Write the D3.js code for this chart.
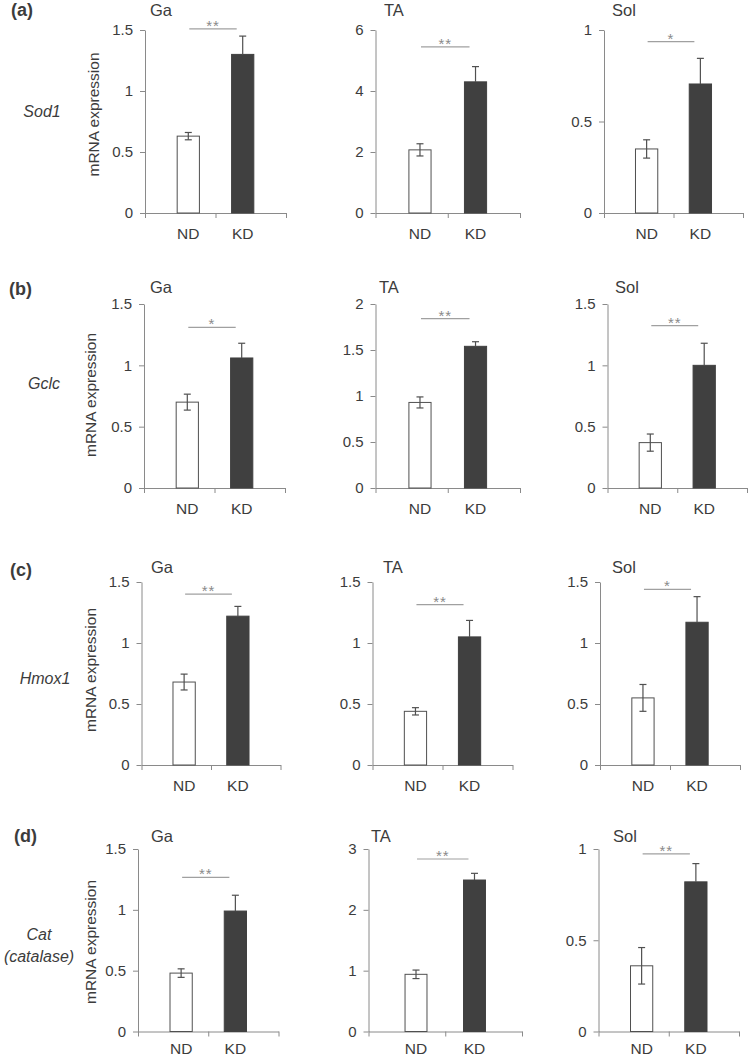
<!DOCTYPE html>
<html><head><meta charset="utf-8">
<script src="https://cdn.jsdelivr.net/npm/d3@7"></script>
<style>
body{margin:0;background:#fff;}
svg{display:block;font-family:"Liberation Sans",Arial,sans-serif;}
</style></head>
<body>
<svg id="c" width="748" height="1056"></svg>
<script>
// ---------------- DATA ----------------
const panelLetters = ["(a)", "(b)", "(c)", "(d)"];
const geneLabels = [["Sod1"], ["Gclc"], ["Hmox1"], ["Cat", "(catalase)"]];
const muscles = ["Ga", "TA", "Sol"];
const groups = ["ND", "KD"];
const yLabel = "mRNA expression";

// mean [ND, KD] per muscle (Ga, TA, Sol)
const sod1Mean  = [[0.63, 1.30], [2.07, 4.30], [0.35, 0.705]];
const sod1Err   = [[0.03, 0.15], [0.20, 0.50], [0.05, 0.14]];
const gclcMean  = [[0.70, 1.06], [0.93, 1.54], [0.37, 1.00]];
const gclcErr   = [[0.065, 0.12], [0.06, 0.05], [0.07, 0.18]];
const hmox1Mean = [[0.68, 1.22], [0.44, 1.05], [0.55, 1.17]];
const hmox1Err  = [[0.065, 0.08], [0.03, 0.135], [0.11, 0.21]];
const catMean   = [[0.48, 0.99], [0.94, 2.49], [0.36, 0.82]];
const catErr    = [[0.035, 0.13], [0.07, 0.11], [0.10, 0.10]];

const yMax = [[1.5, 6, 1], [1.5, 2, 1.5], [1.5, 1.5, 1.5], [1.5, 3, 1]];
const yTicks = [
  [[0, 0.5, 1, 1.5], [0, 2, 4, 6], [0, 0.5, 1]],
  [[0, 0.5, 1, 1.5], [0, 0.5, 1, 1.5, 2], [0, 0.5, 1, 1.5]],
  [[0, 0.5, 1, 1.5], [0, 0.5, 1, 1.5], [0, 0.5, 1, 1.5]],
  [[0, 0.5, 1, 1.5], [0, 1, 2, 3], [0, 0.5, 1]]
];
const sigLabels = [["**", "**", "*"], ["*", "**", "**"], ["**", "**", "*"], ["**", "**", "**"]];
const sigLevel = [[1.51, 5.45, 0.936], [1.31, 1.84, 1.323], [1.40, 1.315, 1.44], [1.266, 2.836, 0.973]];

const means = [sod1Mean, gclcMean, hmox1Mean, catMean];
const errs = [sod1Err, gclcErr, hmox1Err, catErr];

// ---------------- LAYOUT ----------------
const rowTop = [30, 304, 582, 849];
const rowBot = [213, 488, 765, 1031.5];
const axisX = [
  [[145, 286], [375.5, 520], [604, 743]],
  [[144, 285], [375.5, 520], [607.5, 747]],
  [[141.5, 280.5], [372.5, 512.5], [600, 740]],
  [[138, 278.5], [368.5, 522], [598.5, 739]]
];
const titleX = [[150, 384, 612], [150, 379, 615], [151, 383, 612], [151, 371, 613]];
const titleBase = [16, 293, 573, 842];
const letterPos = [[11, 16], [9, 295], [10, 576], [14, 842]];
const genePos = [[42, 117], [44, 389], [45, 684], [39, 940]];
const yLabPos = [[94, 114.5], [91, 395], [91, 670], [91, 942]];
const xLabBase = [239, 514, 791, 1053.5];

const textCol = "#3c3c3c", axisCol = "#8a8a8a", darkBar = "#404040";

const svg = d3.select("#c");

for (let r = 0; r < 4; r++) {
  // panel letter
  svg.append("text").attr("x", letterPos[r][0]).attr("y", letterPos[r][1])
    .attr("font-size", 18).attr("font-weight", "bold").attr("fill", textCol)
    .text(panelLetters[r]);
  // gene label
  const gl = svg.append("text").attr("text-anchor", "middle")
    .attr("font-size", 16).attr("font-style", "italic").attr("fill", textCol);
  geneLabels[r].forEach((t, i) => {
    gl.append("tspan").attr("x", genePos[r][0]).attr("y", genePos[r][1] + i * 22).text(t);
  });
  // y label
  svg.append("text")
    .attr("transform", `translate(${yLabPos[r][0] + 5},${yLabPos[r][1]}) rotate(-90)`)
    .attr("text-anchor", "middle").attr("font-size", 15.5).attr("fill", textCol)
    .text(yLabel);

  for (let m = 0; m < 3; m++) {
    const [x0, x1] = axisX[r][m];
    const w = x1 - x0;
    const y = d3.scaleLinear().domain([0, yMax[r][m]]).range([rowBot[r], rowTop[r]]);
    const bw = 28.8;
    const x = d3.scaleBand().domain(groups).range([x0, x1]).padding(1 - bw / (w / 2));
    const g = svg.append("g");

    // title
    g.append("text").attr("x", titleX[r][m]).attr("y", titleBase[r])
      .attr("font-size", 16.5).attr("fill", textCol).text(muscles[m]);

    // y axis
    const ya = g.append("g").attr("transform", `translate(${x0},0)`)
      .call(d3.axisLeft(y).tickValues(yTicks[r][m]).tickFormat(d => String(d))
        .tickSize(5).tickSizeOuter(0).tickPadding(7));
    ya.select(".domain").attr("stroke", axisCol);
    ya.selectAll(".tick line").attr("stroke", axisCol);
    ya.selectAll("text").attr("font-size", 15).attr("fill", textCol)
      .attr("font-family", "Liberation Sans, Arial, sans-serif");

    // x axis (line + ticks at ends and middle)
    const xl = d3.scaleLinear().domain([0, 2]).range([x0, x1]);
    const xa = g.append("g").attr("transform", `translate(0,${rowBot[r]})`)
      .call(d3.axisBottom(xl).tickValues([0, 1, 2]).tickFormat("").tickSize(5).tickSizeOuter(0));
    xa.select(".domain").attr("stroke", axisCol);
    xa.selectAll(".tick line").attr("stroke", axisCol);
    // category labels
    const xb = g.append("g").attr("transform", `translate(0,${rowBot[r]})`)
      .call(d3.axisBottom(x).tickSize(0));
    xb.select(".domain").remove();
    xb.selectAll("text").attr("font-size", 15.5).attr("fill", textCol)
      .attr("font-family", "Liberation Sans, Arial, sans-serif")
      .attr("dy", null).attr("y", xLabBase[r] - rowBot[r]);

    const data = groups.map((k, i) => ({ k, v: means[r][m][i], e: errs[r][m][i] }));

    // bars
    g.selectAll("rect.bar").data(data).join("rect")
      .attr("x", d => x(d.k)).attr("width", x.bandwidth())
      .attr("y", d => y(d.v)).attr("height", d => y(0) - y(d.v))
      .attr("fill", d => d.k === "ND" ? "#fff" : darkBar)
      .attr("stroke", d => d.k === "ND" ? "#505050" : darkBar).attr("stroke-width", 1);

    // error bars
    data.forEach(d => {
      const cx = x(d.k) + x.bandwidth() / 2;
      const lo = d.k === "ND" ? d.v - d.e : d.v;
      const col = "#505050";
      g.append("line").attr("x1", cx).attr("x2", cx).attr("y1", y(lo)).attr("y2", y(d.v + d.e))
        .attr("stroke", col).attr("stroke-width", 1.2);
      g.append("line").attr("x1", cx - 3.5).attr("x2", cx + 3.5).attr("y1", y(d.v + d.e)).attr("y2", y(d.v + d.e))
        .attr("stroke", col).attr("stroke-width", 1.2);
      if (d.k === "ND") {
        g.append("line").attr("x1", cx - 3.5).attr("x2", cx + 3.5).attr("y1", y(lo)).attr("y2", y(lo))
          .attr("stroke", col).attr("stroke-width", 1.2);
      }
    });

    // significance
    const sx1 = x("ND") + x.bandwidth() / 2 + 1;
    const sx2 = x("KD") + x.bandwidth() / 2 - 6;
    const sy = y(sigLevel[r][m]);
    g.append("line").attr("x1", sx1).attr("x2", sx2).attr("y1", sy).attr("y2", sy)
      .attr("stroke", "#a0a0a0").attr("stroke-width", 1.2);
    g.append("text").attr("x", (sx1 + sx2) / 2).attr("y", sy + 2)
      .attr("text-anchor", "middle").attr("font-size", 15).attr("letter-spacing", 1)
      .attr("fill", "#8a8a8a").text(sigLabels[r][m]);
  }
}
</script>
</body></html>
